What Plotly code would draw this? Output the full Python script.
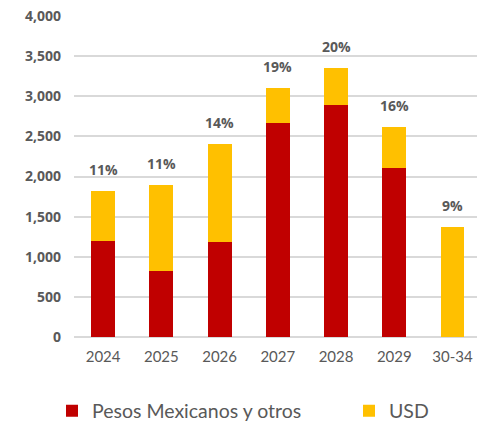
import plotly.graph_objects as go

categories = ["2024", "2025", "2026", "2027", "2028", "2029", "30-34"]
mxn_otros = [1200, 825, 1180, 2670, 2890, 2110, 0]
usd = [625, 1075, 1220, 430, 465, 505, 1370]
pct_labels = ["11%", "11%", "14%", "19%", "20%", "16%", "9%"]
y_ticks = [0, 500, 1000, 1500, 2000, 2500, 3000, 3500, 4000]

RED = "#C00000"
YELLOW = "#FFC000"
GREY = "#595959"
W, H = 477, 425

fig = go.Figure()
fig.add_trace(go.Bar(x=categories, y=mxn_otros, name="Pesos Mexicanos y otros",
                     marker=dict(color=RED, line=dict(width=0)), legend="legend"))
fig.add_trace(go.Bar(x=categories, y=usd, name="USD",
                     marker=dict(color=YELLOW, line=dict(width=0)), legend="legend2"))

totals = [a + b for a, b in zip(mxn_otros, usd)]
for i, (t, p) in enumerate(zip(totals, pct_labels)):
    fig.add_annotation(x=i, y=t, text=p, showarrow=False, yanchor="bottom", yshift=10,
                       font=dict(family="Open Sans", size=14, color=GREY, weight="bold"))

legend_font = dict(family="Lato", size=19.5, color=GREY)
fig.update_layout(
    width=W, height=H,
    margin=dict(l=74, r=0, t=16, b=88),
    barmode="stack", bargap=0.59,
    plot_bgcolor="white", paper_bgcolor="white",
    xaxis=dict(type="category", range=[-0.5, 6.42], showgrid=False, showline=False,
               zeroline=False,
               tickfont=dict(family="Lato", size=15, color=GREY), ticklabelstandoff=9,
               fixedrange=True),
    yaxis=dict(range=[0, 4000], tickvals=y_ticks, tickformat=",", showgrid=True,
               gridcolor="#D9D9D9", gridwidth=2, zeroline=True, zerolinecolor="#D9D9D9",
               zerolinewidth=2, showline=False,
               tickfont=dict(family="Open Sans", size=14, color=GREY, weight="bold"),
               ticklabelstandoff=12, fixedrange=True),
    showlegend=True,
    legend=dict(orientation="h", xref="container", yref="container",
                x=52 / W, xanchor="left", y=(H - 411) / H, yanchor="middle",
                font=legend_font, bgcolor="rgba(0,0,0,0)"),
    legend2=dict(orientation="h", xref="container", yref="container",
                 x=349 / W, xanchor="left", y=(H - 411) / H, yanchor="middle",
                 font=legend_font, bgcolor="rgba(0,0,0,0)"),
)

fig.write_html("out.html")
